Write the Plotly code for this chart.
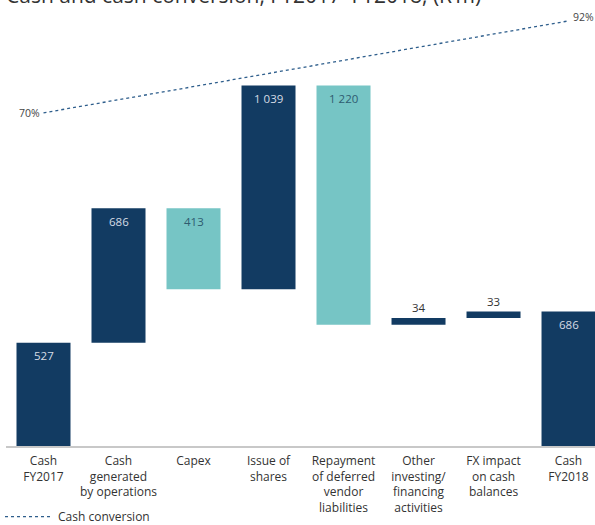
import plotly.graph_objects as go
from plotly.subplots import make_subplots

# Cash bridge FY2017 -> FY2018 (R'm)
categories = [
    "Cash<br>FY2017",
    "Cash<br>generated<br>by operations",
    "Capex",
    "Issue of<br>shares",
    "Repayment<br>of deferred<br>vendor<br>liabilities",
    "Other<br>investing/<br>financing<br>activities",
    "FX impact<br>on cash<br>balances",
    "Cash<br>FY2018",
]
measures = ["absolute", "relative", "relative", "relative", "relative", "relative", "relative", "total"]
values = [527, 686, -413, 1039, -1220, 34, 33, 686]
value_labels = ["527", "686", "413", "1 039", "1 220", "34", "33", "686"]

# Cash conversion (%)
conversion_x = [0, 7]
conversion = [70, 92]
conversion_labels = ["70%", "92%"]

NAVY = "#123B62"
TEAL = "#76C5C5"
FONT = "Open Sans"

x_idx = list(range(len(categories)))

fig = make_subplots(specs=[[{"secondary_y": True}]])

wf_values = [v if m != "total" else 0 for v, m in zip(values, measures)]
fig.add_trace(
    go.Waterfall(
        x=x_idx,
        y=wf_values,
        measure=measures,
        increasing=dict(marker=dict(color=NAVY, line=dict(width=0))),
        decreasing=dict(marker=dict(color=TEAL, line=dict(width=0))),
        totals=dict(marker=dict(color=NAVY, line=dict(width=0))),
        connector=dict(visible=False),
        width=0.72,
        showlegend=False,
        hoverinfo="skip",
    ),
    secondary_y=False,
)

fig.add_trace(
    go.Scatter(
        x=conversion_x,
        y=conversion,
        mode="lines",
        name="Cash conversion",
        line=dict(color="#2E5E8C", width=1.3, dash="dot"),
        hoverinfo="skip",
    ),
    secondary_y=True,
)

# value labels: inside the top of tall bars, above the small ones
running = 0
for i, (v, m, lab) in enumerate(zip(values, measures, value_labels)):
    if m == "absolute":
        top = v
        running = v
        color = "#D5DCE5"
    elif m == "total":
        top = running
        color = "#D5DCE5"
    else:
        top = max(running, running + v)
        running += v
        color = "#D5DCE5" if v > 0 else "#2F5B70"
    small = abs(v) < 100
    fig.add_annotation(
        x=i, y=top, xref="x", yref="y",
        text=lab, showarrow=False,
        font=dict(family=FONT, size=11.5, color="#333333" if small else color),
        yanchor="middle",
        yshift=10 if small else -13,
    )

for xv, yv, lab, side in zip(conversion_x, conversion, conversion_labels, ["right", "left"]):
    fig.add_annotation(
        x=xv, y=yv, xref="x", yref="y2",
        text=lab, showarrow=False,
        font=dict(family=FONT, size=10.5, color="#444444"),
        xanchor=side, yanchor="middle",
        xshift=-2 if side == "right" else 2,
        yshift=0 if side == "right" else 4,
    )

fig.add_annotation(
    text="Cash and cash conversion, FY2017\u2013FY2018, (R\u2019m)",
    xref="paper", yref="paper", x=0, y=1.0, xanchor="left", yanchor="middle",
    xshift=-2, yshift=5,
    showarrow=False,
    font=dict(family=FONT, size=21, color="#333333"),
)

fig.update_xaxes(
    domain=[0, 1],
    range=[-0.5, 7.353],
    automargin=False,
    tickmode="array",
    tickvals=x_idx,
    ticktext=categories,
    showgrid=False,
    zeroline=False,
    showline=True,
    linecolor="#C8C8C8",
    linewidth=1.5,
    ticks="",
    ticklabelstandoff=3,
    tickfont=dict(family=FONT, size=12, color="#333333"),
)
fig.update_yaxes(range=[0, 2275], visible=False, automargin=False, showgrid=False, zeroline=False, secondary_y=False)
fig.update_yaxes(range=[-9.7, 97.0], visible=False, automargin=False, showgrid=False, zeroline=False, secondary_y=True)

fig.update_layout(
    width=595,
    height=525,
    margin=dict(l=6, r=0, t=0, b=79, autoexpand=False),
    plot_bgcolor="white",
    paper_bgcolor="white",
    font=dict(family=FONT, color="#333333"),
    showlegend=True,
    legend=dict(
        orientation="h",
        xref="container", yref="container",
        x=0.0, y=0.016, xanchor="left", yanchor="middle",
        itemwidth=48,
        font=dict(family=FONT, size=12, color="#333333"),
        bgcolor="rgba(0,0,0,0)",
    ),
)

fig.write_html("out.html")
